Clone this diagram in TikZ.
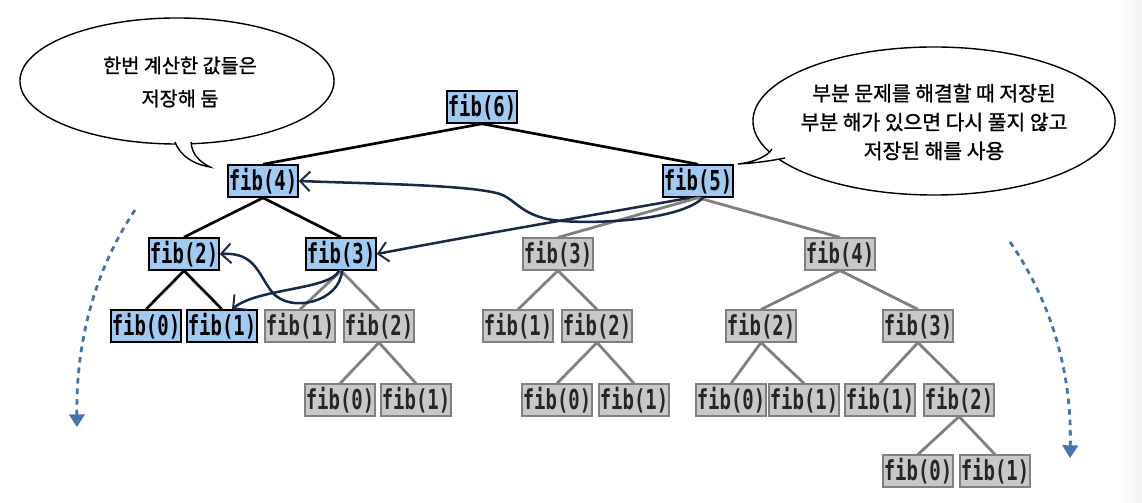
\documentclass[tikz,border=0pt]{standalone}
\usepackage{fontspec}
\usetikzlibrary{shapes.geometric,arrows.meta,calc}
\newfontfamily\fibfont{DejaVu Sans Mono}[FakeStretch=0.69]
\newfontfamily\krfont{Noto Sans CJK KR}[FakeBold=1.2]
\definecolor{bluefill}{RGB}{160,202,242}
\definecolor{grayfill}{RGB}{200,200,200}
\definecolor{grayline}{RGB}{128,128,128}
\definecolor{navy}{RGB}{24,42,72}
\definecolor{dotblue}{RGB}{70,115,172}
\tikzset{
  fibbase/.style={rectangle, minimum width=1.75cm, minimum height=0.8cm, inner sep=0pt,
    font=\fibfont\bfseries\fontsize{19.5}{22}\selectfont},
  bluebox/.style={fibbase, fill=bluefill, draw=black, line width=1.1pt, text=black},
  graybox/.style={fibbase, fill=grayfill, draw=grayline, line width=0.8pt, text=black!85},
  blackedge/.style={draw=black, line width=1.9pt},
  grayedge/.style={draw=grayline, line width=2pt},
  memo/.style={draw=navy, line width=1.8pt, -{Straight Barb[length=7pt,width=14pt,line width=1.4pt]}},
  dotarrow/.style={draw=dotblue, line width=2pt, dash pattern=on 4pt off 3.5pt,
    -{Triangle[length=9pt,width=11pt]}},
  bubble/.style={ellipse, draw=black, line width=1pt, fill=white, inner sep=0pt},
}
\begin{document}
\begin{tikzpicture}[x=0.025cm, y=-0.025cm]
\useasboundingbox (0,0) rectangle (1142,503);
\shade[left color=white, right color=black!5, draw=none] (1118,0) rectangle (1142,503);

% speech bubbles
\node[bubble, minimum width=7.85cm, minimum height=3.15cm] (cL) at (177,81) {};
\fill[white] (172,136) -- (175,142) .. controls (180,155) and (192,164) .. (210,167)
  .. controls (200,162) and (192,155) .. (191,142) -- (194,136) -- cycle;
\draw[line width=1pt] (175,142) .. controls (180,155) and (192,164) .. (210,167)
  .. controls (200,162) and (192,155) .. (191,142);
\node[font=\krfont\fontsize{14}{23.5}\selectfont, align=center] (tL) at (180,82)
  {한번 계산한 값들은\\저장해 둠};

\node[bubble, minimum width=9.05cm, minimum height=3.7cm] (cR) at (934,121) {};
\fill[white] (778,143) -- (772,149) .. controls (768,156) and (755,162) .. (738,164)
  .. controls (755,163) and (770,161) .. (785,158) -- (790,150) -- cycle;
\draw[line width=1pt] (772,149) .. controls (768,156) and (755,162) .. (738,164)
  .. controls (755,163) and (770,161) .. (785,158);
\node[font=\krfont\fontsize{14.5}{20.5}\selectfont, align=center] (tR) at (934,122)
  {부분 문제를 해결할 때 저장된\\부분 해가 있으면 다시 풀지 않고\\저장된 해를 사용};

% nodes
\node[bluebox] (f6) at (482,107) {fib(6)};
\node[bluebox] (f4) at (263,181) {fib(4)};
\node[bluebox] (f5) at (698,181) {fib(5)};
\node[bluebox] (a2) at (184,254) {fib(2)};
\node[bluebox] (a3) at (341,254) {fib(3)};
\node[graybox] (g3) at (558,254) {fib(3)};
\node[graybox] (g4) at (840,254) {fib(4)};
\node[bluebox] (a0) at (146,326) {fib(0)};
\node[bluebox] (a1) at (222,326) {fib(1)};
\node[graybox] (h1) at (300,326) {fib(1)};
\node[graybox] (h2) at (379,326) {fib(2)};
\node[graybox] (i1) at (518,326) {fib(1)};
\node[graybox] (i2) at (597,326) {fib(2)};
\node[graybox] (j2) at (761,326) {fib(2)};
\node[graybox] (j3) at (918,326) {fib(3)};
\node[graybox] (k0) at (340,400) {fib(0)};
\node[graybox] (k1) at (416,400) {fib(1)};
\node[graybox] (l0) at (557,400) {fib(0)};
\node[graybox] (l1) at (634,400) {fib(1)};
\node[graybox] (m0) at (731,400) {fib(0)};
\node[graybox] (m1) at (804,400) {fib(1)};
\node[graybox] (n1) at (880,400) {fib(1)};
\node[graybox] (n2) at (959,400) {fib(2)};
\node[graybox] (p0) at (918,471) {fib(0)};
\node[graybox] (p1) at (995,471) {fib(1)};

% tree edges
\draw[blackedge] (f6.south) -- (f4.north);
\draw[blackedge] (f6.south) -- (f5.north);
\draw[blackedge] (f4.south) -- (a2.north);
\draw[blackedge] (f4.south) -- (a3.north);
\draw[blackedge] (a2.south) -- (a0.north);
\draw[blackedge] (a2.south) -- (a1.north);
\draw[grayedge] (a3.south) -- (h1.north);
\draw[grayedge] (a3.south) -- (h2.north);
\draw[grayedge] (h2.south) -- (k0.north);
\draw[grayedge] (h2.south) -- (k1.north);
\draw[grayedge] (f5.south) -- (g3.north);
\draw[grayedge] (f5.south) -- (g4.north);
\draw[grayedge] (g3.south) -- (i1.north);
\draw[grayedge] (g3.south) -- (i2.north);
\draw[grayedge] (i2.south) -- (l0.north);
\draw[grayedge] (i2.south) -- (l1.north);
\draw[grayedge] (g4.south) -- (j2.north);
\draw[grayedge] (g4.south) -- (j3.north);
\draw[grayedge] (j2.south) -- (m0.north);
\draw[grayedge] (j2.south) -- (m1.north);
\draw[grayedge] (j3.south) -- (n1.north);
\draw[grayedge] (j3.south) -- (n2.north);
\draw[grayedge] (n2.south) -- (p0.north);
\draw[grayedge] (n2.south) -- (p1.north);

% memo arrows
\draw[memo] ($(f5.south)+(5,0)$) .. controls (680,220) and (600,224) .. (562,221)
  .. controls (522,218) and (517,200) .. (500,194)
  .. controls (470,185) and (380,184) .. (f4.east);
\draw[memo] ($(f5.south)+(-8,0)$) .. controls (600,214) and (470,236) .. (a3.east);
\draw[memo] ($(a3.south)+(-2,0)$) .. controls (330,290) and (258,288) .. ($(a1.north)+(10,0)$);
\draw[memo] ($(a3.south)+(1,0)$) .. controls (340,302) and (290,314) .. (272,292)
  .. controls (258,274) and (255,252) .. (a2.east);

% dotted direction arrows
\coordinate (dl1) at (135,210);
\coordinate (dl2) at (77,427);
\coordinate (dr1) at (1010,242);
\coordinate (dr2) at (1070,458);
\draw[dotarrow] (dl1) .. controls (95,270) and (76,340) .. (dl2);
\draw[dotarrow] (dr1) .. controls (1050,300) and (1072,370) .. (dr2);
\end{tikzpicture}
\end{document}
